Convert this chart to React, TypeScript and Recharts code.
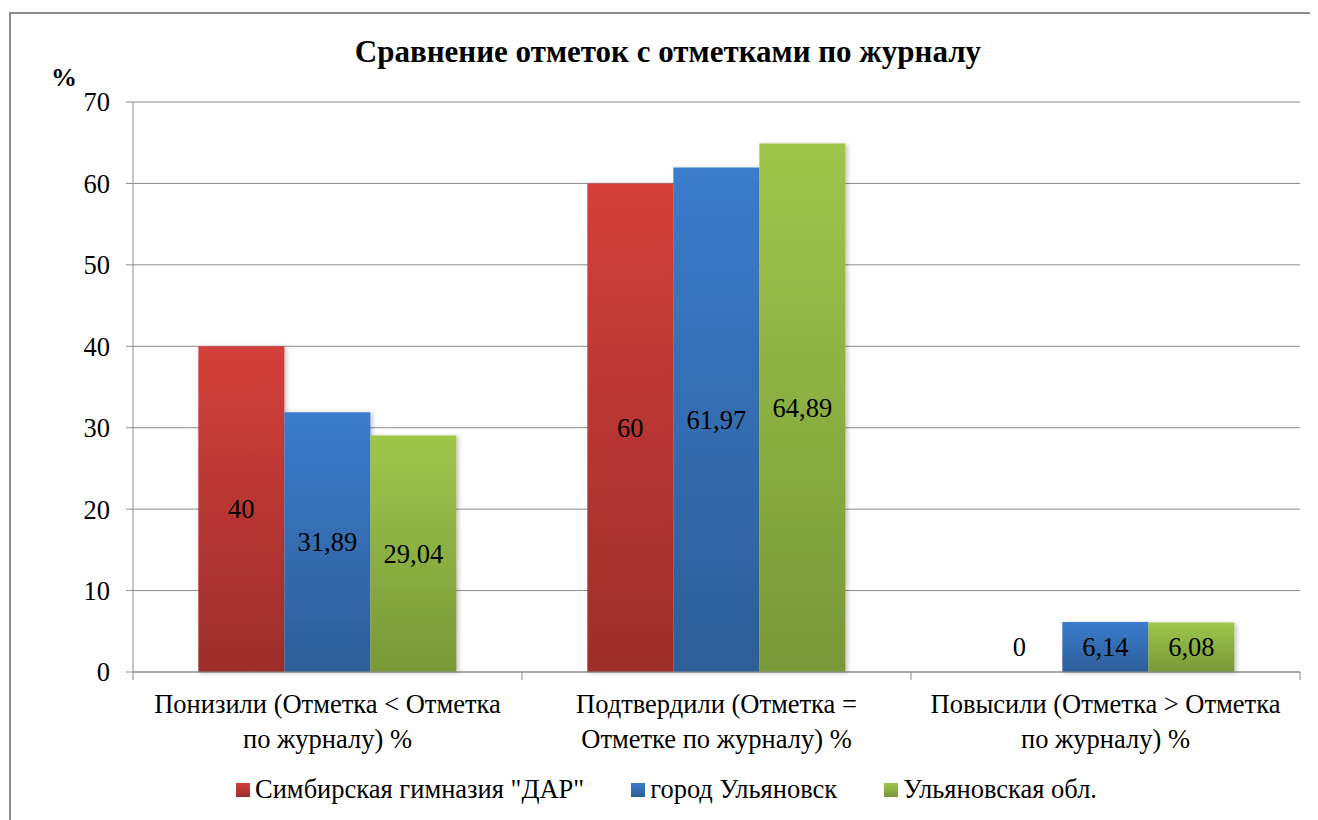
import { BarChart, Bar, XAxis, YAxis, CartesianGrid, LabelList } from "recharts"

const categories = [
  "Понизили (Отметка < Отметка\nпо журналу) %",
  "Подтвердили (Отметка =\nОтметке по журналу) %",
  "Повысили (Отметка > Отметка\nпо журналу) %",
]
const gymnasium = [40, 60, 0]
const city = [31.89, 61.97, 6.14]
const region = [29.04, 64.89, 6.08]
const yTicks = [0, 10, 20, 30, 40, 50, 60, 70]

const series = [
  { key: "gym", label: 'Симбирская гимназия "ДАР"', top: "#D33F3A", bottom: "#9C2E2B" },
  { key: "city", label: "город Ульяновск", top: "#3B7CCC", bottom: "#2D5E97" },
  { key: "region", label: "Ульяновская обл.", top: "#9EC64B", bottom: "#789838" },
]

const data = categories.map((name, i) => ({
  name,
  gym: gymnasium[i],
  city: city[i],
  region: region[i],
}))

const fmt = (v: number) => String(v).replace(".", ",")

// value label in the middle of the bar; zero bars get it where the short bars have theirs
const ValueLabel = (props: any) => {
  const { x, y, width, height, value } = props
  const h = Number(height)
  const cy = h > 1 ? Number(y) + h / 2 : Number(y) - 25
  return (
    <text
      x={Number(x) + Number(width) / 2}
      y={cy + 9}
      textAnchor="middle"
      fontFamily="Liberation Serif"
      fontSize={26.5}
      fill="#000"
    >
      {fmt(Number(value))}
    </text>
  )
}

const CategoryTick = (props: any) => {
  const { x, y, payload, index, visibleTicksCount, width } = props
  const band = Number(width) / visibleTicksCount
  const lines = String(payload.value).split("\n")
  return (
    <g>
      <line x1={x - band / 2} x2={x - band / 2} y1={y} y2={y + 8} stroke="#8c8c8c" />
      {index === visibleTicksCount - 1 && (
        <line x1={x + band / 2} x2={x + band / 2} y1={y} y2={y + 8} stroke="#8c8c8c" />
      )}
      {lines.map((l, i) => (
        <text
          key={i}
          x={x}
          y={y + 41 + i * 35}
          textAnchor="middle"
          fontFamily="Liberation Serif"
          fontSize={26.5}
          fill="#000"
        >
          {l}
        </text>
      ))}
    </g>
  )
}

export default function App() {
  return (
    <div
      style={{
        position: "relative",
        margin: "-8px 0 0 -8px",
        width: 1318,
        height: 820,
        overflow: "hidden",
        background: "#fff",
        fontFamily: "Liberation Serif",
      }}
    >
      <div
        style={{
          position: "absolute",
          left: 9,
          top: 12,
          width: 1400,
          height: 900,
          borderTop: "2px solid #8c8c8c",
          borderLeft: "2px solid #8c8c8c",
        }}
      />
      <div
        style={{
          position: "absolute",
          top: 34,
          left: 0,
          width: 1336,
          textAlign: "center",
          fontFamily: "Liberation Serif",
          fontWeight: "bold",
          fontSize: 31,
        }}
      >
        Сравнение отметок с отметками по журналу
      </div>
      <div
        style={{
          position: "absolute",
          top: 63,
          left: 51,
          fontFamily: "Liberation Serif",
          fontWeight: "bold",
          fontSize: 26,
        }}
      >
        %
      </div>

      <div style={{ position: "absolute", left: 0, top: 0 }}>
        <BarChart
          width={1318}
          height={820}
          data={data}
          margin={{ top: 102, right: 18, bottom: 52, left: 0 }}
          barGap={0}
          barCategoryGap="16.8%"
        >
          <defs>
            {series.map((s) => (
              <linearGradient key={s.key} id={`g-${s.key}`} x1="0" y1="0" x2="0" y2="1">
                <stop offset="0%" stopColor={s.top} />
                <stop offset="100%" stopColor={s.bottom} />
              </linearGradient>
            ))}
            <filter id="shadow" x="-10%" y="-10%" width="130%" height="120%">
              <feDropShadow dx="2" dy="1" stdDeviation="2" floodColor="#000" floodOpacity="0.25" />
            </filter>
          </defs>
          <CartesianGrid vertical={false} stroke="#8c8c8c" strokeWidth={1} />
          <XAxis
            dataKey="name"
            interval={0}
            height={96}
            axisLine={{ stroke: "#8c8c8c" }}
            tickLine={false}
            tickSize={0}
            tickMargin={0}
            tick={<CategoryTick />}
          />
          <YAxis
            width={133}
            domain={[0, 70]}
            ticks={yTicks}
            interval={0}
            axisLine={{ stroke: "#8c8c8c" }}
            tickLine={{ stroke: "#8c8c8c" }}
            tickSize={7}
            tickMargin={16}
            tick={{ fontFamily: "Liberation Serif", fontSize: 26.5, fill: "#000" }}
          />
          {series.map((s) => (
            <Bar
              key={s.key}
              dataKey={s.key}
              name={s.label}
              fill={`url(#g-${s.key})`}
              filter="url(#shadow)"
              minPointSize={0.01}
              isAnimationActive={false}
            >
              <LabelList dataKey={s.key} content={<ValueLabel />} />
            </Bar>
          ))}
        </BarChart>
      </div>

      <div
        style={{
          position: "absolute",
          top: 774,
          left: 236,
          display: "flex",
          gap: 47,
          fontFamily: "Liberation Serif",
          fontSize: 26.5,
          alignItems: "center",
        }}
      >
        {series.map((s) => (
          <div key={s.key} style={{ display: "flex", alignItems: "center" }}>
            <span
              style={{
                width: 14,
                height: 14,
                marginRight: 5,
                background: `linear-gradient(${s.top}, ${s.bottom})`,
                display: "inline-block",
              }}
            />
            {s.label}
          </div>
        ))}
      </div>
    </div>
  )
}
